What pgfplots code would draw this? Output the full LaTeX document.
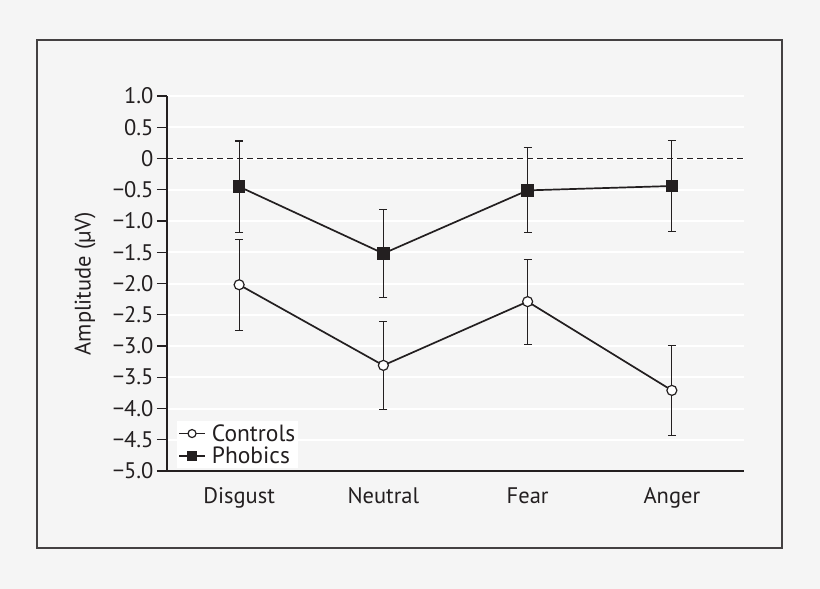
\documentclass[border=0pt]{standalone}
\usepackage{fontspec}
\setmainfont{PT Sans}
\usepackage{pgfplots}
\pgfplotsset{compat=1.18}
\definecolor{bg}{HTML}{F5F5F5}
\definecolor{ink}{HTML}{231F20}

\pgfplotstableread{
x   y      err
0   -2.02  0.73
1   -3.31  0.70
2   -2.29  0.68
3   -3.71  0.72
}\controls
\pgfplotstableread{
x   y      err
0   -0.45  0.73
1   -1.52  0.70
2   -0.51  0.68
3   -0.44  0.73
}\phobics

\begin{document}
\begin{tikzpicture}[x=1pt,y=1pt]
\fill[bg] (0,0) rectangle (820,-589);
\begin{axis}[
    at={(167pt,-471pt)}, anchor=south west,
    scale only axis, width=577pt, height=375pt,
    xmin=-0.5, xmax=3.5, ymin=-5, ymax=1,
    axis x line*=bottom, axis y line*=left,
    axis line style={ink, line width=1.3pt, -},
    tick label style={font=\fontsize{22.5}{25}\selectfont, text=ink},
    xtick={0,1,2,3},
    xticklabels={Disgust,Neutral,Fear,Anger},
    major x tick style={draw=none},
    extra x ticks={-0.5,0.5,1.5,2.5,3.5},
    extra x tick labels={},
    extra x tick style={major tick length=10pt, tick style={ink, line width=1.3pt}, grid=none},
    xticklabel style={yshift=-3pt},
    ytick={-5,-4.5,...,1},
    yticklabels={−5.0,−4.5,−4.0,−3.5,−3.0,−2.5,−2.0,−1.5,−1.0,−0.5,0,0.5,1.0},
    tick align=outside,
    major tick length=10pt,
    ytick style={ink, line width=1.3pt},
    ymajorgrids,
    major grid style={white, line width=2pt},
    every axis y label/.style={at={(axis description cs:0,0.5)}, xshift=-82pt, rotate=90, anchor=center,
        font=\fontsize{22.5}{25}\selectfont, text=ink},
    ylabel={Amplitude (µV)},
    legend style={at={(axis cs:-0.5,-5)}, anchor=south west, xshift=10pt, yshift=3pt,
        fill=white, draw=none, font=\fontsize{23.5}{26}\selectfont, text=ink, inner sep=1pt,
        row sep=0pt, cells={anchor=west, inner sep=1pt}},
    legend image code/.code={\draw[mark repeat=2,mark phase=2,#1, mark size=4pt] plot coordinates {(0pt,0pt) (13pt,0pt) (26pt,0pt)};},
    clip=false,
]
\draw[ink, line width=1.2pt, dash pattern=on 6pt off 4pt] (axis cs:-0.5,0) -- (axis cs:3.5,0);
\addplot[ink, line width=1.7pt, mark=*, mark size=5pt, mark options={fill=white, line width=1.2pt},
    error bars/.cd, y dir=both, y explicit,
    error bar style={line width=1.1pt, ink},
    error mark options={ink, line width=1.1pt, mark size=4pt, rotate=90}]
    table[x=x, y=y, y error=err] {\controls};
\addlegendentry{\hspace{4pt}Controls\hspace{3pt}}
\addplot[ink, line width=1.7pt, mark=square*, mark size=5.5pt, mark options={fill=ink},
    error bars/.cd, y dir=both, y explicit,
    error bar style={line width=1.1pt, ink},
    error mark options={ink, line width=1.1pt, mark size=4pt, rotate=90}]
    table[x=x, y=y, y error=err] {\phobics};
\addlegendentry{\hspace{4pt}Phobics}
\end{axis}
\draw[ink!85, line width=1.5pt] (37,-40) rectangle (782,-548);
\end{tikzpicture}
\end{document}
